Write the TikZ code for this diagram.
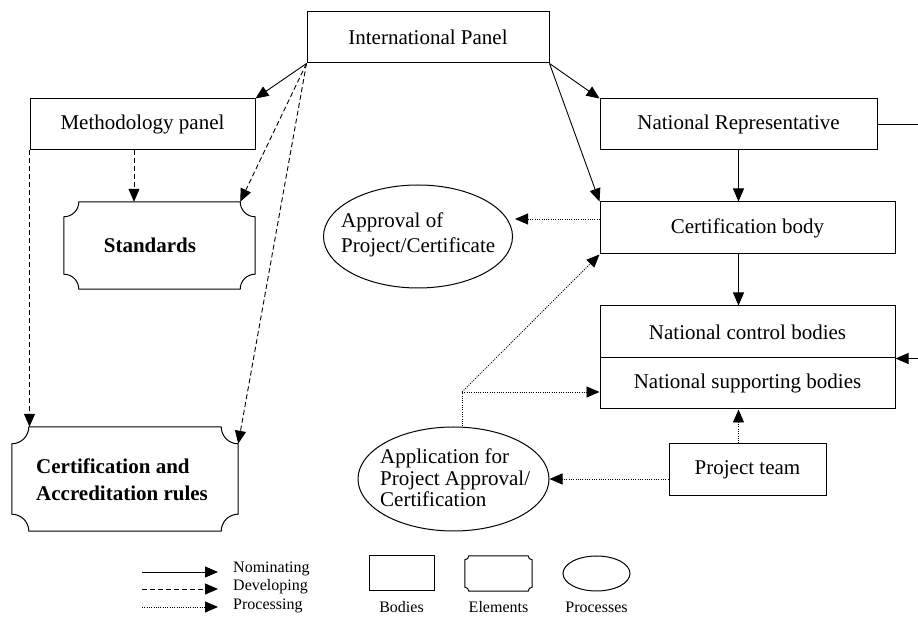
\documentclass[tikz,border=0pt]{standalone}
\usepackage{fontspec}
\setmainfont{Liberation Serif}
\usetikzlibrary{arrows.meta,shapes.geometric,calc}
\newcommand\elemframe[2]{%
  \draw[elemline] ($(#1.north west)+(#2,0)$) -- ($(#1.north east)+(-#2,0)$)
    arc[start angle=180,end angle=270,radius=#2pt]
    -- ($(#1.south east)+(0,#2)$)
    arc[start angle=90,end angle=180,radius=#2pt]
    -- ($(#1.south west)+(#2,0)$)
    arc[start angle=0,end angle=90,radius=#2pt]
    -- ($(#1.north west)+(0,-#2)$)
    arc[start angle=270,end angle=360,radius=#2pt] -- cycle;}
\begin{document}
\begin{tikzpicture}[x=1pt,y=1pt,
  mainfont/.style={font=\fontsize{21}{25}\selectfont},
  boldfont/.style={font=\fontsize{21}{27}\selectfont\bfseries},
  legfont/.style={font=\fontsize{16}{18}\selectfont},
  box/.style={draw, line width=1pt, inner sep=0pt, mainfont},
  elem/.style={draw=none, inner sep=0pt},
  elemline/.style={line width=1pt},
  proc/.style={draw, ellipse, line width=1pt, inner sep=0pt},
  tip/.style={-{Triangle[length=13pt,width=11pt]}, line width=0.9pt},
  nom/.style={tip},
  dev/.style={tip, dash pattern=on 5pt off 3pt},
  pro/.style={tip, dash pattern=on 1pt off 1.3pt}]
\useasboundingbox (0,0) rectangle (918,618);
\clip (0,0) rectangle (918,618);
% bodies
\node[box, minimum width=242, minimum height=51] (ip) at (428,580.5) {International Panel};
\node[box, minimum width=225, minimum height=51] (mp) at (142.5,493.5) {Methodology panel};
\node[box, minimum width=277, minimum height=51] (nr) at (738.5,493.5) {National Representative};
\node[box, minimum width=295, minimum height=52] (cb) at (747.5,390) {Certification body};
\node[box, minimum width=295, minimum height=52] (ncb) at (747.5,286) {National control bodies};
\node[box, minimum width=295, minimum height=51] (nsb) at (747.5,234.5) {National supporting bodies};
\node[box, minimum width=157, minimum height=52] (pt) at (747.5,148) {Project team};
% elements
\node[elem, minimum width=191, minimum height=87] (st) at (159.5,372.5) {};
\elemframe{st}{15}
\node[boldfont] (sttext) at (150,373) {Standards};
\node[elem, minimum width=226, minimum height=104] (cr) at (125,139) {};
\elemframe{cr}{17}
\node[boldfont, anchor=west, align=left, inner sep=0pt] (crtext) at (36,138)
  {Certification and\\Accreditation rules};
% processes
\node[proc, minimum width=189, minimum height=103] (ap) at (418,381.5) {};
\node[mainfont, anchor=west, align=left, inner sep=0pt] (aptext) at (341,383.5)
  {Approval of\\Project/Certificate};
\node[proc, minimum width=191, minimum height=104] (app) at (453.5,139) {};
\node[font=\fontsize{21}{21.7}\selectfont, anchor=west, align=left, inner sep=0pt] (apptext) at (380,140)
  {Application for\\Project Approval/\\Certification};
% nominating
\draw[nom] (ip.south west) -- (mp.north east);
\draw[nom] (ip.south east) -- (nr.north west);
\draw[nom] (ip.south east) -- (cb.north west);
\draw[nom] (nr.south) -- (nr.south |- cb.north);
\draw[nom] (nr.south |- cb.south) -- (nr.south |- ncb.north);
\coordinate (ext) at ($(nr.east)+(50,0)$);
\draw[nom] (nr.east) -- (ext) |- (ncb.south east);
% developing
\coordinate (mpdev) at (134,468);
\draw[dev] (mpdev) -- (mpdev |- st.north);
\draw[dev] (ip.south west) -- ($(st.north east)+(-15,0)$);
\draw[dev] (ip.south west) -- ($(cr.north east)+(0,-17)$);
\draw[dev] (mp.south west) -- (mp.south west |- cr.north);
% processing
\coordinate (cbout) at (600,399);
\coordinate (apin) at (515,399);
\draw[pro] (cbout) -- (apin);
\coordinate (jn) at (462,226);
\draw[pro, -] (jn |- app.north) -- (jn);
\draw[pro] (jn) -- (jn -| nsb.west);
\draw[pro] (jn) -- (cb.south west);
\draw[pro] (nr.south |- pt.north) -- (nr.south |- nsb.south);
\draw[pro] (pt.west |- app.east) -- (app.east);
% legend
\coordinate (l1a) at (142,46); \coordinate (l1b) at (218,46);
\coordinate (l2a) at (142,29); \coordinate (l2b) at (218,29);
\coordinate (l3a) at (142,11); \coordinate (l3b) at (218,11);
\draw[nom] (l1a) -- (l1b);
\draw[dev] (l2a) -- (l2b);
\draw[pro] (l3a) -- (l3b);
\node[legfont, anchor=base west, inner sep=0pt] (t1) at (233,45) {Nominating};
\node[legfont, anchor=base west, inner sep=0pt] (t2) at (233,27) {Developing};
\node[legfont, anchor=base west, inner sep=0pt] (t3) at (233,8) {Processing};
\node[draw, line width=1pt, minimum width=65, minimum height=35, inner sep=0pt] (lb) at (401.5,44.5) {};
\node[elem, minimum width=67, minimum height=35] (le) at (498.5,44.5) {};
\elemframe{le}{4}
\node[proc, minimum width=67, minimum height=35] (lp) at (596.5,44.5) {};
\node[legfont, anchor=base, inner sep=0pt] (tb) at (401.5,5) {Bodies};
\node[legfont, anchor=base, inner sep=0pt] (te) at (498.5,5) {Elements};
\node[legfont, anchor=base, inner sep=0pt] (tp) at (596.5,5) {Processes};
\end{tikzpicture}
\end{document}
